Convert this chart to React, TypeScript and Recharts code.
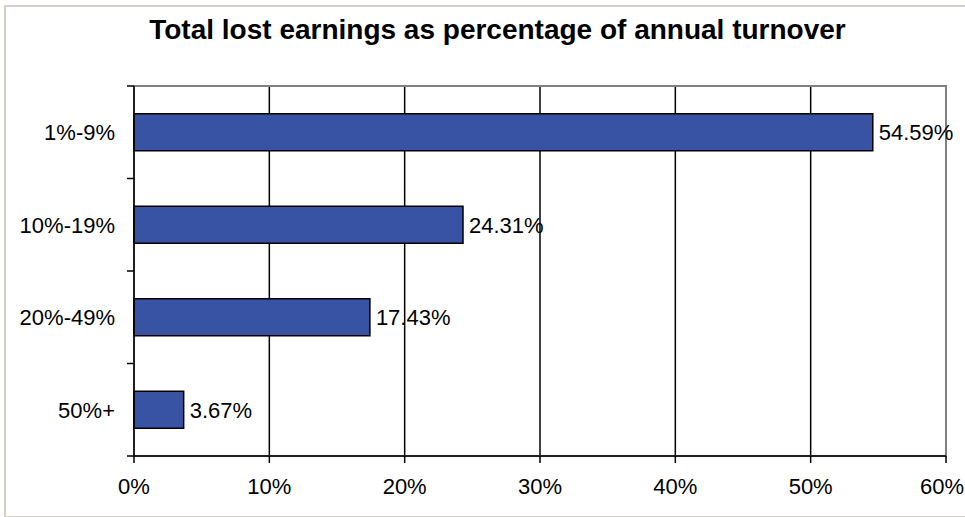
import {
  BarChart,
  Bar,
  XAxis,
  YAxis,
  CartesianGrid,
  ReferenceArea,
  LabelList,
} from "recharts";

const categories = ["1%-9%", "10%-19%", "20%-49%", "50%+"];
const shares = [54.59, 24.31, 17.43, 3.67];
const xTicks = [0, 10, 20, 30, 40, 50, 60];

const data = categories.map((name, i) => ({ name, value: shares[i] }));

const FONT = "'Liberation Sans', Arial, sans-serif";
const Y_AXIS_W = 134;

// category label plus the tick marks that sit on the band edges
function CategoryTick(props: any) {
  const { x, y, payload, index, visibleTicksCount } = props;
  const half = payload.offset ?? 0;
  const isLast = index === visibleTicksCount - 1;
  return (
    <g>
      <line x1={Y_AXIS_W - 7} x2={Y_AXIS_W} y1={y - half} y2={y - half} stroke="#000" strokeWidth={1.5} />
      {isLast && (
        <line x1={Y_AXIS_W - 7} x2={Y_AXIS_W} y1={y + half} y2={y + half} stroke="#000" strokeWidth={1.5} />
      )}
      <text x={x} y={y} dy="0.355em" textAnchor="end" fontSize={22} fill="#000" fontFamily={FONT}>
        {payload.value}
      </text>
    </g>
  );
}

function PercentTick(props: any) {
  const { x, y, payload, index, visibleTicksCount } = props;
  const shift = index === visibleTicksCount - 1 ? -4 : 0;
  return (
    <text x={x + shift} y={y} dy="0.71em" textAnchor="middle" fontSize={22} fill="#000" fontFamily={FONT}>
      {`${payload.value}%`}
    </text>
  );
}

export default function App() {
  return (
    <div style={{ position: "absolute", left: 0, top: 0, width: 965, height: 517, background: "#fff", overflow: "hidden", fontFamily: FONT }}>
      {/* outer frame */}
      <div
        style={{
          position: "absolute",
          left: 4,
          top: 5,
          width: 970,
          height: 509,
          borderTop: "2px solid #d4d0c8",
          borderLeft: "2px solid #d4d0c8",
          borderBottom: "2px solid #d4d0c8",
        }}
      />
      <div
        style={{
          position: "absolute",
          left: 0,
          top: 14,
          width: 995,
          textAlign: "center",
          fontSize: 28,
          fontWeight: "bold",
          color: "#000",
        }}
      >
        Total lost earnings as percentage of annual turnover
      </div>
      <div style={{ position: "absolute", left: 0, top: 0 }}>
        <BarChart
          layout="vertical"
          width={965}
          height={517}
          data={data}
          margin={{ top: 86, right: 19, left: 0, bottom: 0 }}
          barCategoryGap="30%"
        >
          <ReferenceArea x1={0} x2={60} fill="none" stroke="#808080" strokeWidth={2} ifOverflow="visible" />
          <CartesianGrid horizontal={false} stroke="#000" strokeWidth={1.5} />
          <XAxis
            type="number"
            domain={[0, 60]}
            ticks={xTicks}
            height={61}
            tickSize={7}
            tickMargin={15}
            axisLine={{ stroke: "#000", strokeWidth: 1.5 }}
            tickLine={{ stroke: "#000", strokeWidth: 1.5 }}
            tick={<PercentTick />}
            interval={0}
          />
          <YAxis
            type="category"
            dataKey="name"
            width={Y_AXIS_W}
            tickSize={7}
            tickMargin={12}
            axisLine={{ stroke: "#000", strokeWidth: 1.5 }}
            tickLine={false}
            tick={<CategoryTick />}
            interval={0}
          />
          <Bar dataKey="value" fill="#3953a4" stroke="#000" strokeWidth={1.5} isAnimationActive={false}>
            <LabelList
              dataKey="value"
              position="right"
              offset={6}
              formatter={(v: number) => `${v.toFixed(2)}%`}
              style={{ fontSize: 22, fill: "#000", fontFamily: FONT }}
            />
          </Bar>
        </BarChart>
      </div>
    </div>
  );
}
